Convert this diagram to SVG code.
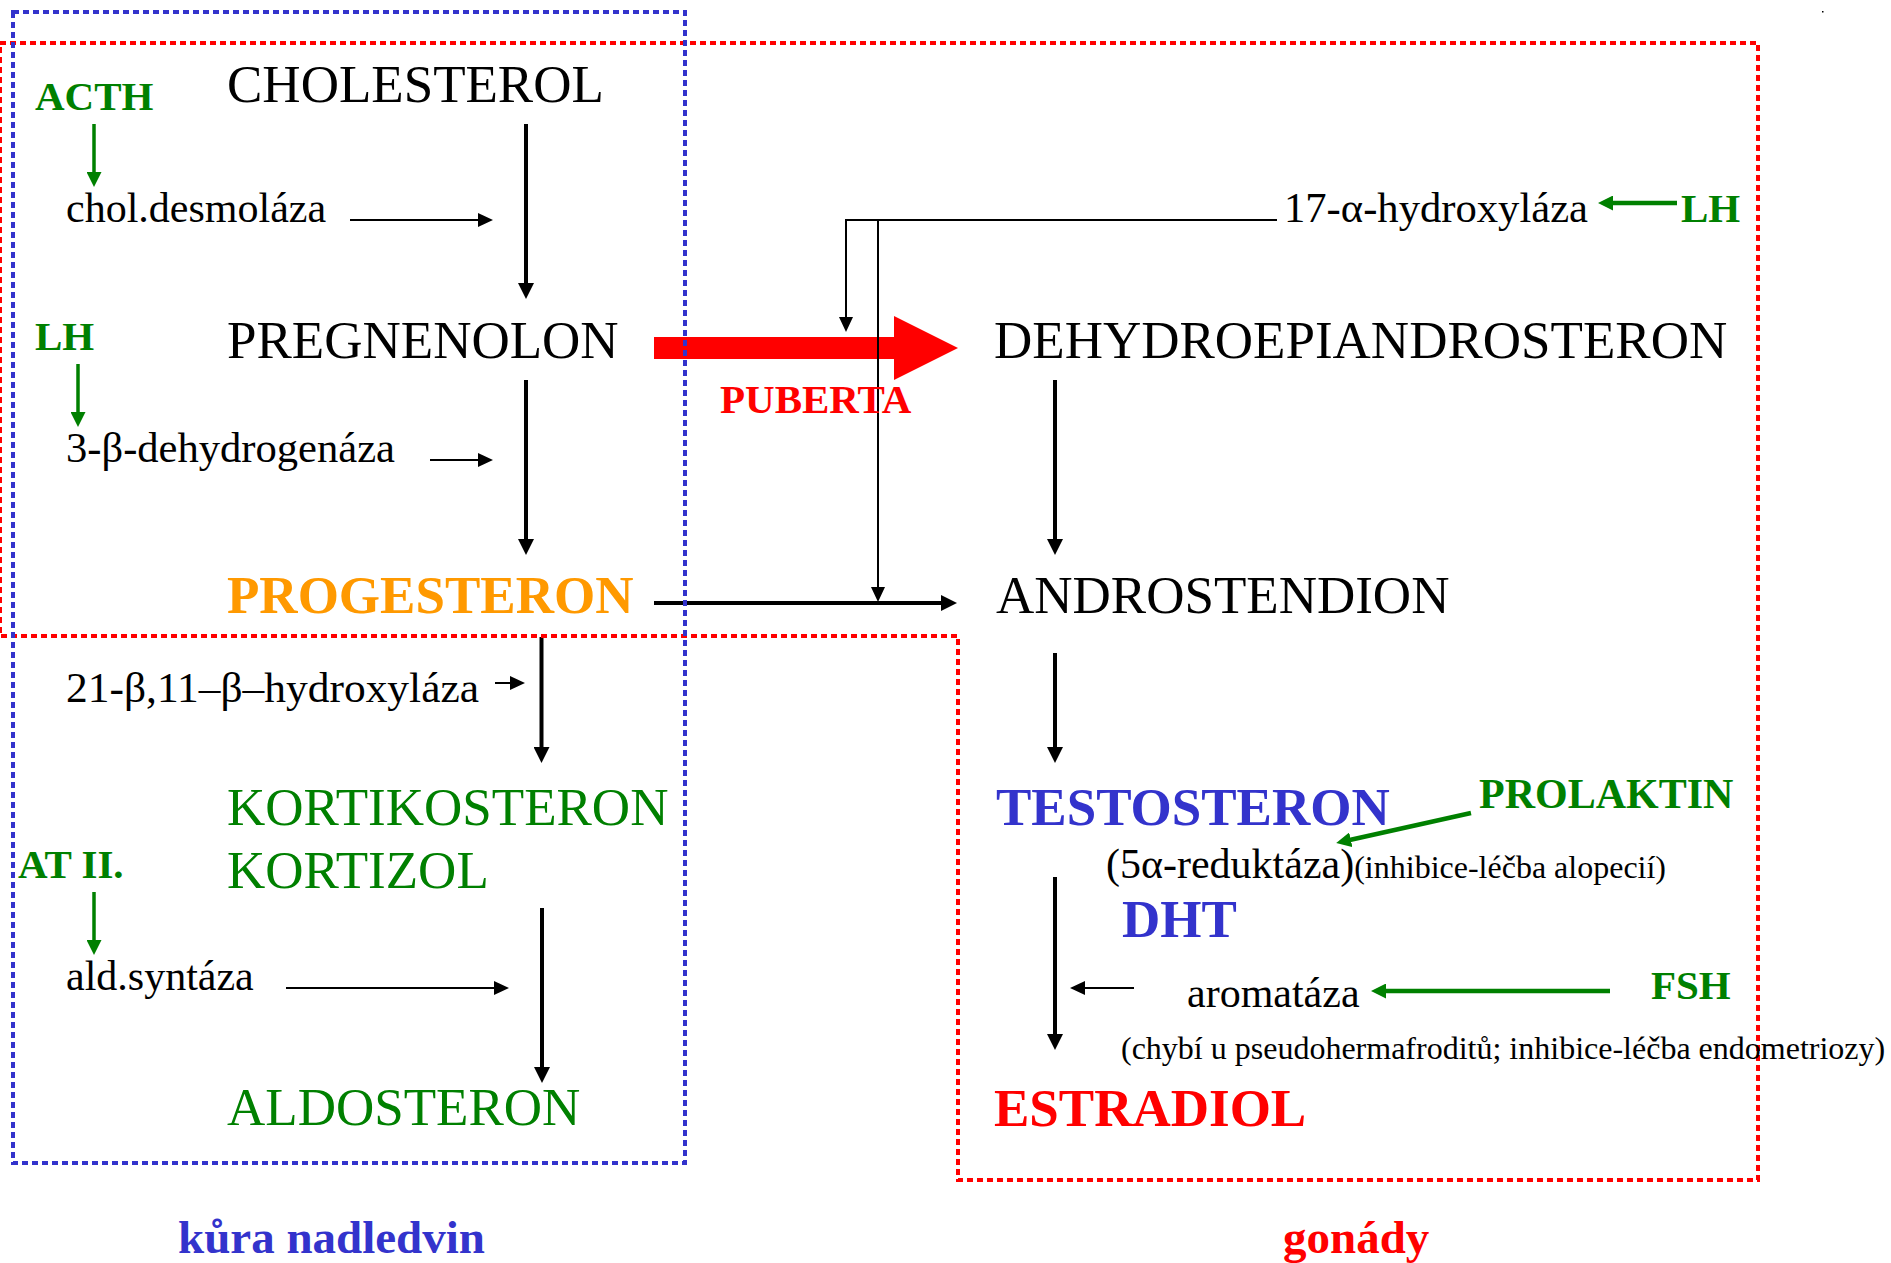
<svg xmlns="http://www.w3.org/2000/svg" width="1891" height="1263" viewBox="0 0 1891 1263">
<style>
text{font-family:"Liberation Serif","Times New Roman",serif;}
.big{font-size:53px;}
.sm{font-size:42px;}
.lbl{font-size:41px;font-weight:bold;fill:#008000;}
.tiny{font-size:32px;}
.b{font-weight:bold;}
.k{fill:#000;}
.g{fill:#008000;}
.bl{fill:#3333CC;}
.r{fill:#FF0000;}
.o{fill:#FF9900;}
.thick{stroke:#000;stroke-width:4;fill:none;marker-end:url(#ab);}
.thin{stroke:#000;stroke-width:2;fill:none;marker-end:url(#at);}
.garr{stroke:#008000;stroke-width:3.5;fill:none;marker-end:url(#ag);}
.garr4{stroke:#008000;stroke-width:4.5;fill:none;marker-end:url(#ag);}
.box{fill:none;stroke-width:4;stroke-dasharray:6 4;}
</style>
<defs>
<marker id="ab" markerUnits="userSpaceOnUse" markerWidth="16" markerHeight="16" refX="8" refY="8" orient="auto"><path d="M0,0 L16,8 L0,16 z" fill="#000"/></marker>
<marker id="at" markerUnits="userSpaceOnUse" markerWidth="15" markerHeight="14" refX="7" refY="7" orient="auto"><path d="M0,0 L15,7 L0,14 z" fill="#000"/></marker>
<marker id="ag" markerUnits="userSpaceOnUse" markerWidth="15" markerHeight="15" refX="7" refY="7.5" orient="auto"><path d="M0,0 L15,7.5 L0,15 z" fill="#008000"/></marker>
</defs>
<rect width="1891" height="1263" fill="#fff"/>

<g id="connectors">
<polygon id="puberta-arrow" points="654,337 894,337 894,316 958,348 894,380 894,359 654,359" fill="#FF0000"/>
<line class="garr" x1="94" y1="124" x2="94" y2="179"/>
<line class="garr" x1="78" y1="364" x2="78" y2="419"/>
<line class="garr" x1="94" y1="892" x2="94" y2="947"/>
<line class="garr4" x1="1677" y1="203" x2="1606" y2="203"/>
<line class="garr4" x1="1471" y1="813" x2="1344" y2="841.3"/>
<line class="garr4" x1="1610" y1="991" x2="1379" y2="991"/>
<line class="thin" x1="350" y1="220" x2="485" y2="220"/>
<line class="thin" x1="430" y1="460" x2="485" y2="460"/>
<line class="thin" x1="495" y1="683" x2="517" y2="683"/>
<line class="thin" x1="286" y1="988" x2="501" y2="988"/>
<line class="thin" x1="1134" y1="988" x2="1078" y2="988"/>
<line class="thick" x1="526" y1="124" x2="526" y2="291"/>
<line class="thick" x1="526" y1="380" x2="526" y2="547"/>
<line class="thick" x1="541.5" y1="637" x2="541.5" y2="755"/>
<line class="thick" x1="542" y1="908" x2="542" y2="1075"/>
<line class="thick" x1="1055" y1="380" x2="1055" y2="547"/>
<line class="thick" x1="1055" y1="653" x2="1055" y2="755"/>
<line class="thick" x1="1055" y1="877" x2="1055" y2="1042"/>
<line class="thick" x1="654" y1="603" x2="949" y2="603"/>
<path class="thin" d="M1277,220 H846 V324"/>
<path class="thin" d="M878,220 V594"/>
</g>

<g id="box-gonady"><path class="box" stroke="#FF0000" d="M0,43 H1758 V1180 H958 V636 H0 Z"/></g>
<g id="box-kura"><rect class="box" stroke="#3333CC" x="13" y="12" width="672" height="1151"/></g>

<g id="n-cholesterol"><text class="big k" x="227" y="102">CHOLESTEROL</text></g>
<g id="n-pregnenolon"><text class="big k" x="227" y="358">PREGNENOLON</text></g>
<g id="n-progesteron"><text class="big o b" x="227" y="613">PROGESTERON</text></g>
<g id="n-kortikosteron"><text class="big g" x="227" y="825">KORTIKOSTERON</text><text class="big g" x="227" y="888">KORTIZOL</text></g>
<g id="n-aldosteron"><text class="big g" x="227" y="1125">ALDOSTERON</text></g>
<g id="n-acth"><text class="lbl" x="35" y="110">ACTH</text></g>
<g id="n-lh1"><text class="lbl" x="35" y="350">LH</text></g>
<g id="n-at2"><text class="lbl" x="18" y="878">AT II.</text></g>
<g id="n-desmolaza"><text class="sm k" x="66" y="222">chol.desmoláza</text></g>
<g id="n-3b"><text class="sm k" x="66" y="462" textLength="329" lengthAdjust="spacingAndGlyphs">3-β-dehydrogenáza</text></g>
<g id="n-21b"><text class="sm k" x="66" y="702" textLength="413" lengthAdjust="spacingAndGlyphs">21-β,11–β–hydroxyláza</text></g>
<g id="n-aldsyntaza"><text class="sm k" x="66" y="990">ald.syntáza</text></g>
<g id="n-kura"><text class="bl b" style="font-size:47px" x="178" y="1253">kůra nadledvin</text></g>
<g id="n-puberta"><text class="r b" style="font-size:41px" x="720" y="413">PUBERTA</text></g>
<g id="n-17a"><text class="sm k" x="1284" y="222" textLength="304" lengthAdjust="spacingAndGlyphs">17-α-hydroxyláza</text></g>
<g id="n-lh2"><text class="lbl" x="1681" y="222">LH</text></g>
<g id="n-dhea"><text class="big k" x="994" y="358">DEHYDROEPIANDROSTERON</text></g>
<g id="n-androstendion"><text class="big k" x="996" y="613">ANDROSTENDION</text></g>
<g id="n-testosteron"><text class="big bl b" x="996" y="825">TESTOSTERON</text></g>
<g id="n-prolaktin"><text class="lbl" style="font-size:42px" x="1479" y="808">PROLAKTIN</text></g>
<g id="n-reduktaza"><text class="sm k" x="1106" y="878">(5α-reduktáza)<tspan class="tiny">(inhibice-léčba alopecií)</tspan></text></g>
<g id="n-dht"><text class="big bl b" x="1122" y="937">DHT</text></g>
<g id="n-aromataza"><text class="sm k" x="1187" y="1007">aromatáza</text></g>
<g id="n-fsh"><text class="lbl" x="1651" y="999">FSH</text></g>
<g id="n-chybi"><text class="tiny k" x="1121" y="1059">(chybí u pseudohermafroditů; inhibice-léčba endometriozy)</text></g>
<g id="n-estradiol"><text class="big r b" x="994" y="1126">ESTRADIOL</text></g>
<g id="n-gonady"><text class="r b" style="font-size:47px" x="1283" y="1253">gonády</text></g>
<rect x="1822" y="11" width="1.5" height="1.5" fill="#000"/>
</svg>
